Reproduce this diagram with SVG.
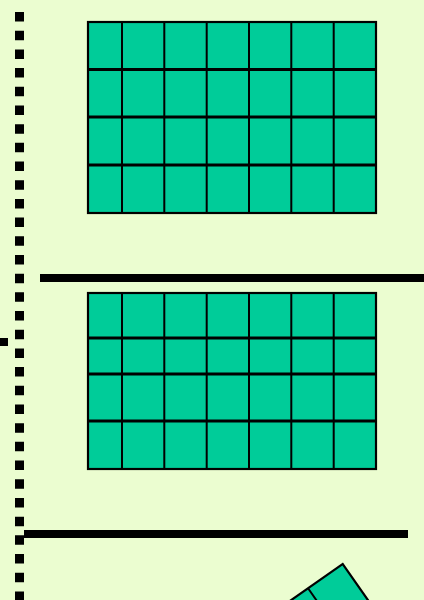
<svg xmlns="http://www.w3.org/2000/svg" width="424" height="600" viewBox="0 0 424 600">
<style>
.cell{fill:#00CC99;stroke:#000;stroke-width:2.2}
.v{stroke:#000;stroke-width:2}
.h{stroke:#000;stroke-width:3}
.bar{fill:#000}
</style>
<rect width="424" height="600" fill="#EBFDD0"/>
<g id="dotted-line">
<line x1="19.5" y1="12" x2="19.5" y2="600" stroke="#000" stroke-width="9" stroke-dasharray="9.5 9.19"/>
</g>
<rect id="left-tick" x="0" y="338" width="8" height="8" fill="#000"/>
<g id="grid-top">
<rect class="cell" x="88" y="22" width="288" height="191"/>
<path class="v" d="M122,22V213M164.3,22V213M206.7,22V213M249,22V213M291.3,22V213M333.7,22V213"/>
<path class="h" d="M88,69.5H376M88,117H376M88,165H376"/>
</g>
<rect id="bar-1" class="bar" x="40" y="274" width="384" height="8"/>
<g id="grid-middle">
<rect class="cell" x="88" y="293" width="288" height="176"/>
<path class="v" d="M122,293V469M164.3,293V469M206.7,293V469M249,293V469M291.3,293V469M333.7,293V469"/>
<path class="h" d="M88,338H376M88,374H376M88,421H376"/>
</g>
<rect id="bar-2" class="bar" x="24" y="530" width="384" height="8"/>
<g id="grid-rotated" transform="translate(342.7,564) rotate(-35)">
<rect class="cell" x="-288" y="0" width="288" height="191"/>
<path class="v" d="M-42.3,0V191M-84.7,0V191M-127,0V191M-169.3,0V191M-211.7,0V191M-254,0V191"/>
<path class="h" d="M-288,47.5H0M-288,95H0M-288,143H0"/>
</g>
</svg>
